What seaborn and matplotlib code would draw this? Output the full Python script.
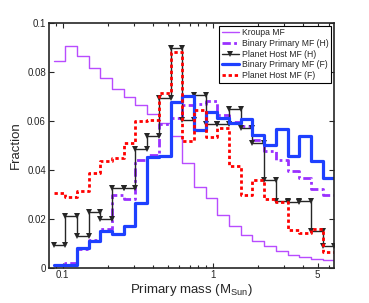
import numpy as np
import pandas as pd
import matplotlib
matplotlib.use('Agg')
import matplotlib.pyplot as plt
import seaborn as sns
from matplotlib.ticker import FixedLocator, NullFormatter

# mass bin edges (M_Sun), log spaced
edges = [0.0868, 0.1039, 0.1243, 0.1488, 0.1781, 0.2132, 0.2551, 0.3053,
         0.3654, 0.4372, 0.5232, 0.6261, 0.7493, 0.8968, 1.0732, 1.2844,
         1.5371, 1.8395, 2.2014, 2.6345, 3.1528, 3.7731, 4.5155, 5.4038, 6.4669]

kroupa = [0.0844, 0.0908, 0.0865, 0.0818, 0.0777, 0.0730, 0.0699, 0.0664,
          0.0630, 0.0592, 0.0538, 0.0429, 0.0330, 0.0285, 0.0215, 0.0171,
          0.0135, 0.0107, 0.0087, 0.0067, 0.0053, 0.0044, 0.0036, 0.0029]

binary_h = [0.0012, 0.0018, 0.0075, 0.0114, 0.0158, 0.0295, 0.0280, 0.0440,
            0.0461, 0.0587, 0.0611, 0.0665, 0.0670, 0.0683, 0.0624, 0.0597,
            0.0577, 0.0522, 0.0475, 0.0441, 0.0393, 0.0366, 0.0320, 0.0295]

planet_h = [0.0092, 0.0210, 0.0131, 0.0226, 0.0198, 0.0325, 0.0325, 0.0485,
            0.0536, 0.0692, 0.0897, 0.0603, 0.0704, 0.0588, 0.0588, 0.0650,
            0.0570, 0.0509, 0.0358, 0.0272, 0.0268, 0.0272, 0.0148, 0.0090]

binary_f = [0.0012, 0.0012, 0.0080, 0.0110, 0.0148, 0.0137, 0.0171, 0.0266,
            0.0454, 0.0458, 0.0679, 0.0702, 0.0563, 0.0636, 0.0612, 0.0590,
            0.0607, 0.0543, 0.0500, 0.0566, 0.0457, 0.0539, 0.0434, 0.0366]

planet_f = [0.0305, 0.0288, 0.0312, 0.0388, 0.0435, 0.0448, 0.0510, 0.0600,
            0.0604, 0.0713, 0.0880, 0.0516, 0.0646, 0.0532, 0.0570, 0.0414,
            0.0298, 0.0357, 0.0279, 0.0267, 0.0154, 0.0141, 0.0158, 0.0062]


def step_table(vals):
    # vertices of a histogram outline
    x = np.repeat(edges, 2)[1:-1]
    y = np.repeat(vals, 2)
    return pd.DataFrame({'mass': x, 'frac': y})


sns.set_style('ticks')
plt.rcParams['font.family'] = ['Liberation Sans', 'DejaVu Sans']
plt.rcParams['mathtext.fontset'] = 'custom'
plt.rcParams['mathtext.rm'] = 'Liberation Sans'

fig = plt.figure(figsize=(3.69, 3.03), dpi=100)
ax = fig.add_axes([0.132, 0.117, 0.772, 0.807])

sns.lineplot(data=step_table(kroupa), x='mass', y='frac', sort=False, estimator=None,
             color='#b84cff', lw=1.0, label='Kroupa MF', ax=ax)
sns.lineplot(data=step_table(binary_h), x='mass', y='frac', sort=False, estimator=None,
             color='#9a30ff', lw=2.0, dashes=False, label='Binary Primary MF (H)', ax=ax)
ax.lines[-1].set_linestyle((0, (3, 1.2, 1, 1.2)))
sns.lineplot(data=step_table(planet_h), x='mass', y='frac', sort=False, estimator=None,
             color='#262626', lw=1.0, marker='v', markersize=4, markeredgewidth=0,
             label='Planet Host MF (H)', ax=ax)
sns.lineplot(data=step_table(binary_f), x='mass', y='frac', sort=False, estimator=None,
             color='#1e40ff', lw=2.3, label='Binary Primary MF (F)', ax=ax)
sns.lineplot(data=step_table(planet_f), x='mass', y='frac', sort=False, estimator=None,
             color='#ff0000', lw=2.0, label='Planet Host MF (F)', ax=ax)
ax.lines[-1].set_linestyle((0, (1.2, 1.0)))

ax.set_xscale('log')
ax.set_xlim(0.0806, 6.39)
ax.set_ylim(0, 0.1)
ax.xaxis.set_major_locator(FixedLocator([0.1, 1, 5]))
ax.set_xticklabels(['0.1', '1', '5'])
ax.xaxis.set_minor_locator(FixedLocator([0.09, 0.2, 0.3, 0.4, 0.5, 0.6, 0.7, 0.8, 0.9,
                                         2, 3, 4, 6]))
ax.xaxis.set_minor_formatter(NullFormatter())
ax.set_yticks([0, 0.02, 0.04, 0.06, 0.08, 0.1])
ax.set_yticklabels(['0', '0.02', '0.04', '0.06', '0.08', '0.1'])
ax.tick_params(which='both', direction='in', top=True, right=True, labelsize=7,
               width=0.8, pad=2)
ax.tick_params(which='major', length=3.5)
ax.tick_params(which='minor', length=2)
for sp in ax.spines.values():
    sp.set_linewidth(1.2)

ax.set_xlabel('Primary mass (M$_{\\mathrm{Sun}}$)', fontsize=9.5, labelpad=1)
ax.set_ylabel('Fraction', fontsize=9.5, labelpad=4)

leg = ax.legend(loc='upper right', fontsize=6.2, handlelength=2.0, labelspacing=0.2,
                borderpad=0.3, handletextpad=0.3, borderaxespad=0.3, fancybox=False,
                framealpha=1, edgecolor='black')
leg.get_frame().set_linewidth(0.8)

fig.savefig('out.png', dpi=100)
